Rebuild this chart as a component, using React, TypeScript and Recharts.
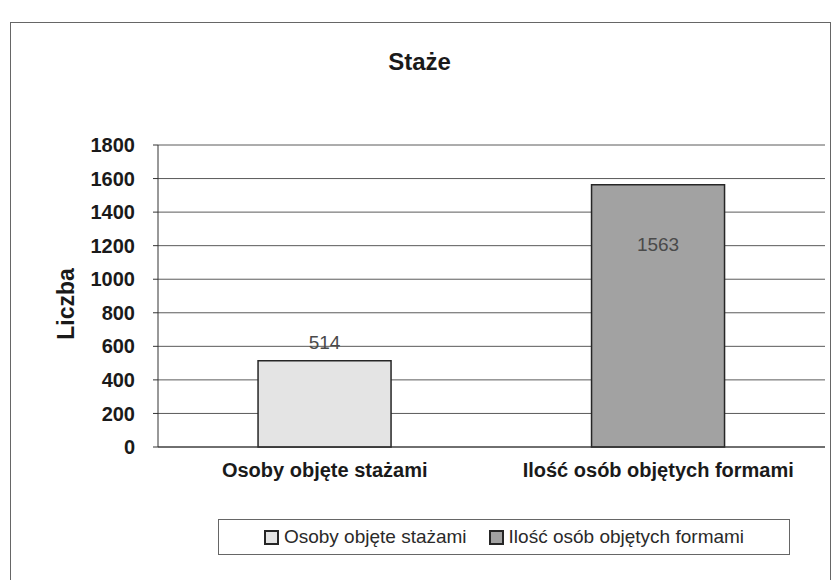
import { BarChart, Bar, XAxis, YAxis, CartesianGrid, Cell, LabelList } from "recharts"

const categories = ["Osoby objęte stażami", "Ilość osób objętych formami"]
const values = [514, 1563]
const barColors = ["#e4e4e4", "#a2a2a2"]
const yTicks = [0, 200, 400, 600, 800, 1000, 1200, 1400, 1600, 1800]

const data = categories.map((name, i) => ({ name, value: values[i] }))

const FONT = "'Liberation Sans', Arial, sans-serif"

function ValueLabel(props: any) {
  const { x, y, width, value, index } = props
  const inside = index === 1 || value === values[1]
  return (
    <text
      x={x + width / 2}
      y={inside ? y + 66 : y - 12}
      textAnchor="middle"
      fontFamily={FONT}
      fontSize={19}
      fill="#4a4a4a"
    >
      {value}
    </text>
  )
}

export default function App() {
  return (
    <div style={{ position: "absolute", left: 0, top: 0, width: 839, height: 580, background: "#fff", fontFamily: FONT }}>
      <div
        style={{
          position: "absolute",
          left: 10,
          top: 22,
          width: 819,
          height: 560,
          border: "1.5px solid #666",
        }}
      />
      <div
        style={{
          position: "absolute",
          left: 0,
          width: 839,
          top: 48,
          textAlign: "center",
          fontSize: 24,
          fontWeight: "bold",
          color: "#1a1a1a",
        }}
      >
        Staże
      </div>
      <BarChart
        width={839}
        height={580}
        data={data}
        margin={{ top: 145, right: 14, bottom: 103, left: 90 }}
        barCategoryGap="30%"
      >
        <CartesianGrid vertical={false} stroke="#5a5a5a" strokeWidth={1} />
        <XAxis
          dataKey="name"
          height={30}
          axisLine={{ stroke: "#333" }}
          tickLine={false}
          tickMargin={10}
          tick={{ fontFamily: FONT, fontSize: 20, fontWeight: "bold", fill: "#1a1a1a" }}
        />
        <YAxis
          width={68}
          domain={[0, 1800]}
          ticks={yTicks}
          axisLine={{ stroke: "#333" }}
          tickLine={{ stroke: "#333" }}
          tickSize={5}
          tickMargin={18}
          tick={{ fontFamily: FONT, fontSize: 20, fontWeight: "bold", fill: "#1a1a1a" }}
          label={{
            value: "Liczba",
            angle: -90,
            position: "insideLeft",
            offset: -24,
            dy: 8,
            style: { fontFamily: FONT, fontSize: 23, fontWeight: "bold", fill: "#1a1a1a", textAnchor: "middle" },
          }}
        />
        <YAxis yAxisId="frame" orientation="right" width={0} tick={false} axisLine={{ stroke: "#666" }} />
        <Bar dataKey="value" stroke="#262626" strokeWidth={1.5} isAnimationActive={false}>
          {data.map((d, i) => (
            <Cell key={d.name} fill={barColors[i]} />
          ))}
          <LabelList dataKey="value" content={ValueLabel} />
        </Bar>
      </BarChart>
      <div
        style={{
          position: "absolute",
          left: 218,
          top: 519,
          width: 572,
          height: 36,
          border: "1.5px solid #666",
          boxSizing: "border-box",
          display: "flex",
          alignItems: "center",
          justifyContent: "center",
          gap: 22,
          fontSize: 19,
          color: "#2a2a2a",
        }}
      >
        {categories.map((c, i) => (
          <div key={c} style={{ display: "flex", alignItems: "center", gap: 5 }}>
            <span
              style={{
                display: "inline-block",
                width: 11,
                height: 11,
                background: barColors[i],
                border: "2px solid #262626",
              }}
            />
            <span>{c}</span>
          </div>
        ))}
      </div>
    </div>
  )
}
